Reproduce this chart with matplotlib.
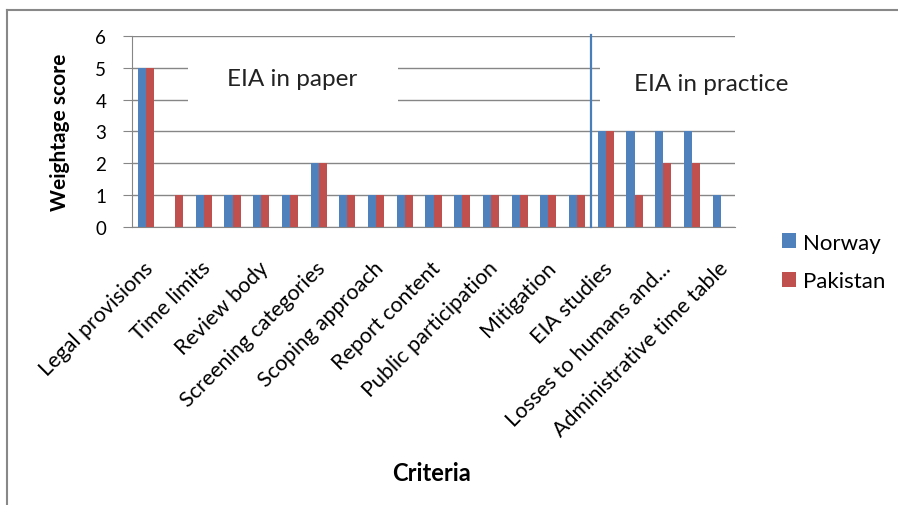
import matplotlib.pyplot as plt
import matplotlib.transforms as mtransforms
from matplotlib.lines import Line2D
from matplotlib.patches import Rectangle
import numpy as np

plt.rcParams['font.family'] = ['Lato', 'DejaVu Sans']

# 21 criteria, only every second one is labelled on the axis
shown_labels = ["Legal provisions", "Time limits", "Review body", "Screening categories",
                "Scoping approach", "Report content", "Public participation", "Mitigation",
                "EIA studies", "Losses to humans and...", "Administrative time table"]
norway = [5, 0, 1, 1, 1, 1, 2, 1, 1, 1, 1, 1, 1, 1, 1, 1, 3, 3, 3, 3, 1]
pakistan = [5, 1, 1, 1, 1, 1, 2, 1, 1, 1, 1, 1, 1, 1, 1, 1, 3, 1, 2, 2, 0]
series_names = ["Norway", "Pakistan"]
colors = ["#4F81BD", "#C0504D"]

fig = plt.figure(figsize=(8.98, 5.06), dpi=100)
ax = fig.add_axes([0.147, 0.5494, 0.6715, 0.3775])

x = np.arange(len(norway))
w = 0.28
ax.bar(x - w / 2, norway, w, color=colors[0], label=series_names[0], zorder=3)
ax.bar(x + w / 2, pakistan, w, color=colors[1], label=series_names[1], zorder=3)

ax.set_xlim(-0.5, len(norway) - 0.5)
ax.set_ylim(0, 6)
ax.set_yticks(range(7))
ax.yaxis.grid(True, color="#868686", linewidth=1, zorder=0)
ax.set_axisbelow(True)
for s in ["top", "right"]:
    ax.spines[s].set_visible(False)
for s in ["left", "bottom"]:
    ax.spines[s].set_color("#868686")
ax.tick_params(axis="y", length=6.5, color="#868686", pad=12, labelsize=13.5)
ax.tick_params(axis="x", length=0, pad=27)
ax.set_xticks(x[::2])
ax.set_xticklabels(shown_labels, rotation=45, ha="right", va="center",
                   rotation_mode="anchor", fontsize=15.5)
shift = mtransforms.ScaledTranslation(4 / 100, 0, fig.dpi_scale_trans)
for lab in ax.get_xticklabels():
    lab.set_transform(lab.get_transform() + shift)

ax.set_ylabel("Weightage score", fontsize=15, fontweight="bold", labelpad=18)
fig.text(0.481, 0.065, "Criteria", fontsize=17, fontweight="bold", ha="center", va="center")

# white boxes behind the section titles
ax.add_patch(Rectangle((1.45, 3.65), 7.3, 1.7, facecolor="white", edgecolor="none", zorder=1))
ax.add_patch(Rectangle((15.8, 3.65), 7.2, 1.7, facecolor="white", edgecolor="none",
                       zorder=1, clip_on=False))
ax.text(5.07, 4.68, "EIA in paper", fontsize=17.5, ha="center", va="center", zorder=2, color="#222222")
ax.text(19.67, 4.52, "EIA in practice", fontsize=17.5, ha="center", va="center", zorder=2,
        color="#222222", clip_on=False)

# divider between paper and practice
ax.plot([15.5, 15.5], [0, 6.04], color="#4A7EBB", linewidth=1.6, zorder=4, clip_on=False)

fig.legend(loc="upper left", bbox_to_anchor=(0.848, 0.578), frameon=False, fontsize=16,
           handlelength=0.65, handleheight=0.65, handletextpad=0.3, labelspacing=0.85)

# chart border (top and left)
fig.add_artist(Line2D([7 / 898, 1], [1 - 11 / 506, 1 - 11 / 506], color="#888888", linewidth=1.5))
fig.add_artist(Line2D([7 / 898, 7 / 898], [0, 1 - 11 / 506], color="#888888", linewidth=1.5))

fig.savefig("out.png", dpi=100)
